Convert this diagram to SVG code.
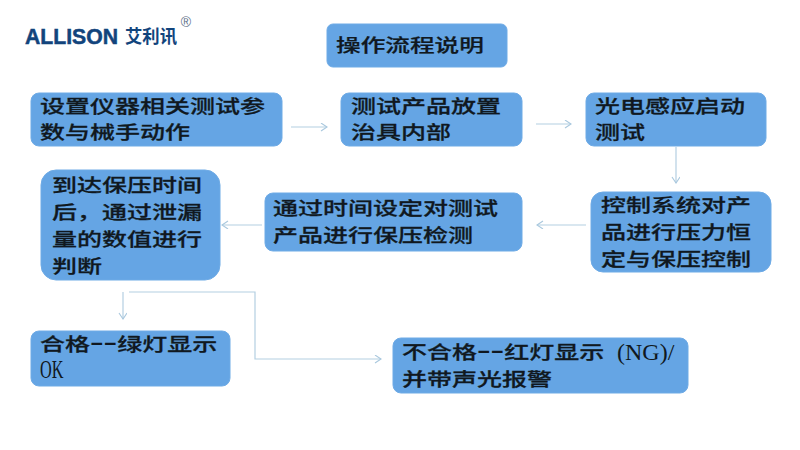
<svg xmlns="http://www.w3.org/2000/svg" width="800" height="450" viewBox="0 0 800 450">
<style>
.box{fill:#65a5e4;stroke:#6fabe6;stroke-width:1}
.t{font-family:"Noto Sans CJK SC","Liberation Serif",sans-serif;font-size:18.4px;font-weight:500;fill:#101820;stroke:#101820;stroke-width:.25}
.d{font-family:"Liberation Serif",serif;font-size:30px;stroke-width:0}
.l{font-family:"Liberation Serif",serif;fill:#101820}
.c{fill:none;stroke:#b4cfe2;stroke-width:1.2}
</style>
<defs><marker id="a" markerWidth="10" markerHeight="10" refX="7" refY="4" orient="auto" markerUnits="userSpaceOnUse"><path d="M1 0L7 4L1 8" fill="none" stroke="#a9c8de" stroke-width="1.1"/></marker></defs>
<rect width="800" height="450" fill="#fff"/>
<g id="logo">
<text x="25" y="44" font-family="'Liberation Sans',sans-serif" font-size="22" font-weight="700" fill="#12447c" stroke="#12447c" stroke-width=".5" textLength="93" lengthAdjust="spacingAndGlyphs">ALLISON</text>
<text x="125" y="43" font-family="'Noto Sans CJK SC',sans-serif" font-size="18" font-weight="700" fill="#12447c" textLength="52" lengthAdjust="spacingAndGlyphs">艾利讯</text>
<text x="186" y="27" text-anchor="middle" font-family="'Liberation Sans',sans-serif" font-size="14" fill="#5c6f88">®</text>
</g>
<g id="connectors">
<path class="c" marker-end="url(#a)" d="M291 127H327"/>
<path class="c" marker-end="url(#a)" d="M536 124H571"/>
<path class="c" marker-end="url(#a)" d="M676 147V183"/>
<path class="c" marker-end="url(#a)" d="M586 225H537"/>
<path class="c" marker-end="url(#a)" d="M262 225H222"/>
<path class="c" marker-end="url(#a)" d="M123 292V319"/>
<path class="c" marker-end="url(#a)" d="M129 292H255V359H381"/>
</g>
<g id="title"><rect class="box" x="327" y="24" width="180" height="43" rx="6"/><text class="t" transform="translate(336 52) scale(1.34 1)">操作流程说明</text></g>
<g id="n1"><rect class="box" x="31" y="93" width="251" height="53" rx="8"/><text class="t" transform="translate(40 113) scale(1.36 1)">设置仪器相关测试参</text><text class="t" transform="translate(40 139) scale(1.36 1)">数与械手动作</text></g>
<g id="n2"><rect class="box" x="341" y="93" width="181" height="53" rx="8"/><text class="t" transform="translate(351 113) scale(1.36 1)">测试产品放置</text><text class="t" transform="translate(351 139) scale(1.36 1)">治具内部</text></g>
<g id="n3"><rect class="box" x="586" y="93" width="180" height="53" rx="8"/><text class="t" transform="translate(595 113) scale(1.36 1)">光电感应启动</text><text class="t" transform="translate(595 139) scale(1.36 1)">测试</text></g>
<g id="n4"><rect class="box" x="591" y="192" width="180" height="80" rx="12"/><text class="t" transform="translate(601 212) scale(1.36 1)">控制系统对产</text><text class="t" transform="translate(601 239) scale(1.36 1)">品进行压力恒</text><text class="t" transform="translate(601 266) scale(1.36 1)">定与保压控制</text></g>
<g id="n5"><rect class="box" x="265" y="193" width="257" height="58" rx="8"/><text class="t" transform="translate(273 215) scale(1.36 1)">通过时间设定对测试</text><text class="t" transform="translate(273 242) scale(1.36 1)">产品进行保压检测</text></g>
<g id="n6"><rect class="box" x="41" y="170" width="179" height="110" rx="15"/><text class="t" transform="translate(52 192) scale(1.36 1)">到达保压时间</text><text class="t" transform="translate(52 219) scale(1.36 1)">后，通过泄漏</text><text class="t" transform="translate(52 246) scale(1.36 1)">量的数值进行</text><text class="t" transform="translate(52 273) scale(1.36 1)">判断</text></g>
<g id="n7"><rect class="box" x="31" y="331" width="199" height="55" rx="8"/><text class="t" transform="translate(40 351) scale(1.36 1)">合格<tspan class="d">--</tspan>绿灯显示</text><text class="l" font-size="25" transform="translate(40 378) scale(.65 1)">OK</text></g>
<g id="n8"><rect class="box" x="393" y="338" width="295" height="55" rx="8"/><text class="t" transform="translate(402 359) scale(1.36 1)">不合格<tspan class="d">--</tspan>红灯显示</text><text class="l" font-size="24" transform="translate(617 360)">(NG)/</text><text class="t" transform="translate(402 386) scale(1.36 1)">并带声光报警</text></g>
</svg>
